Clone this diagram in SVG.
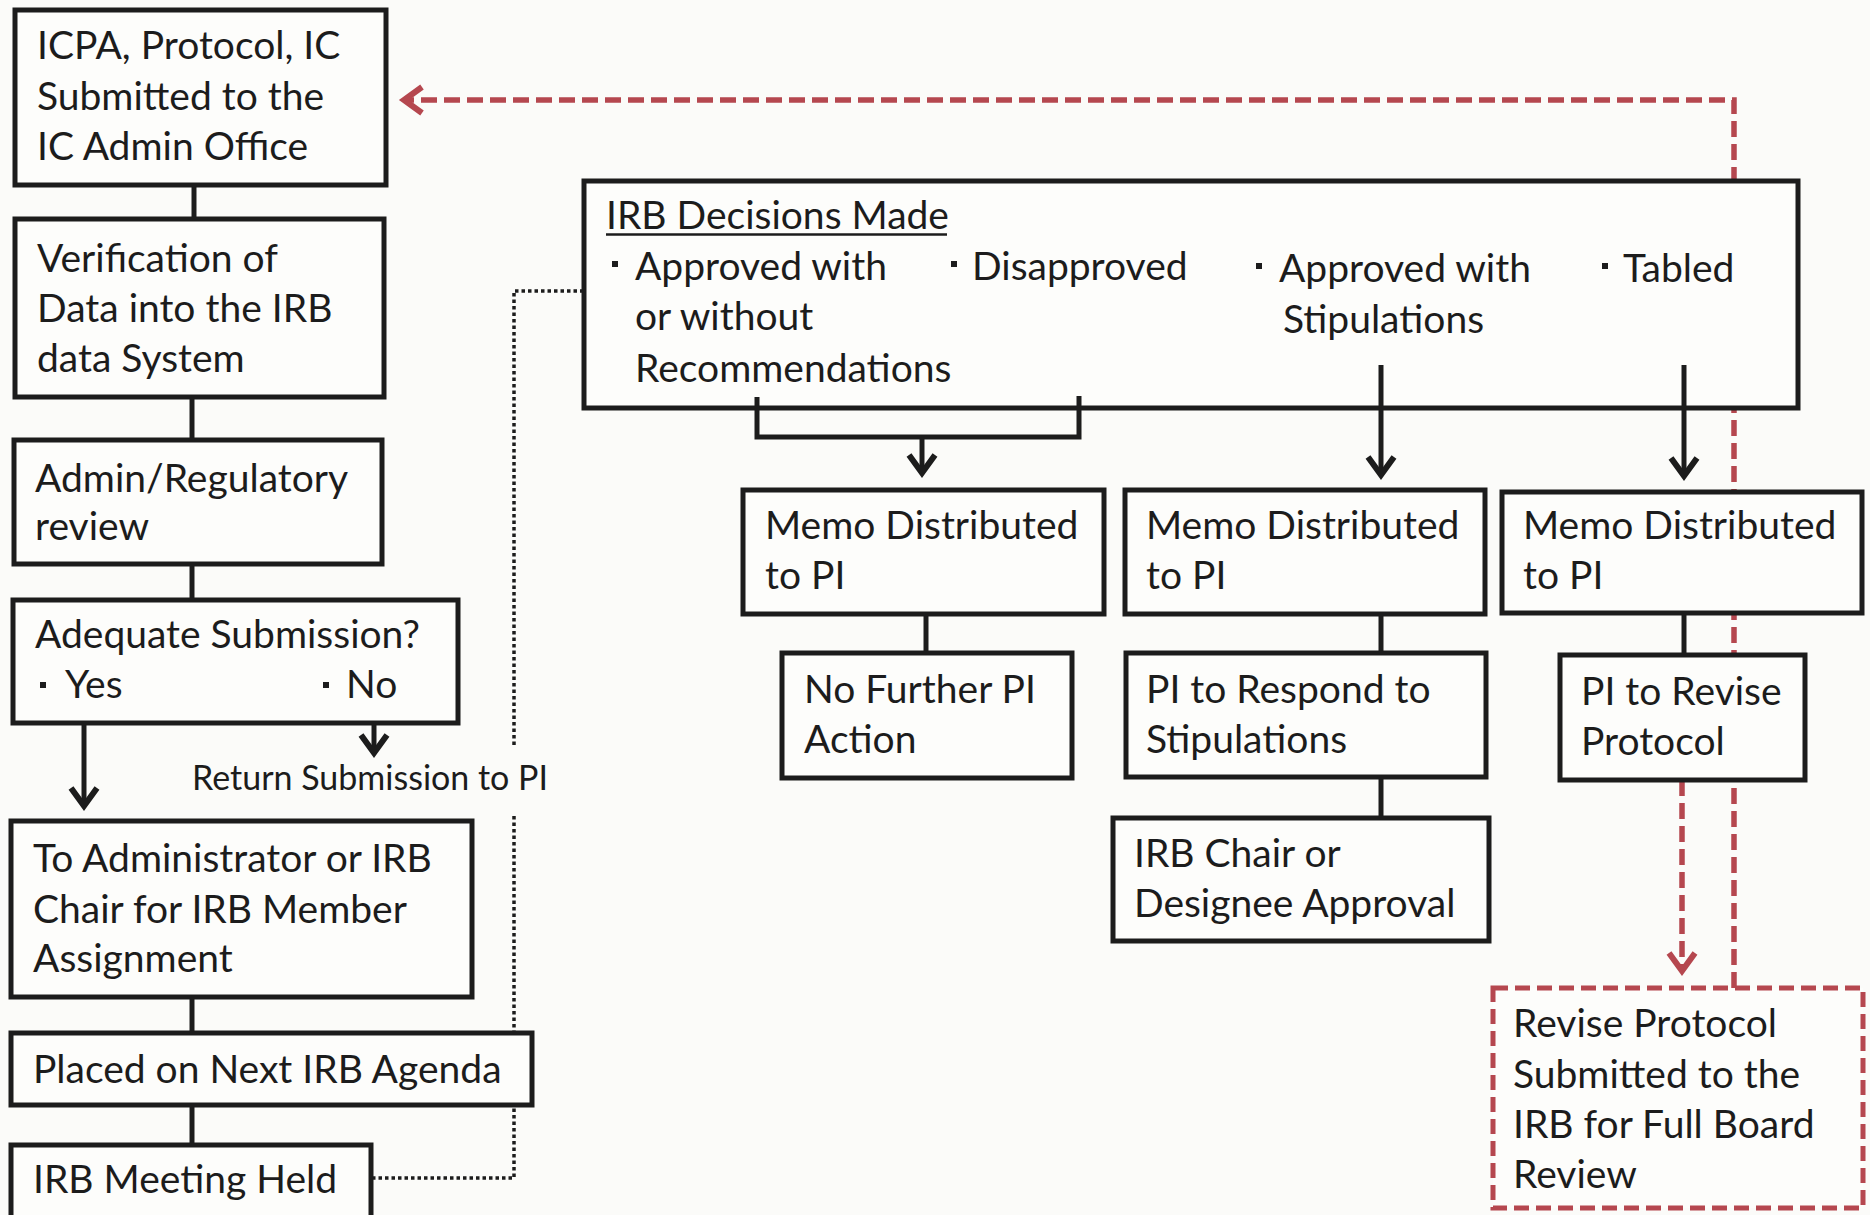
<svg xmlns="http://www.w3.org/2000/svg" width="1870" height="1215" viewBox="0 0 1870 1215">
  <style>
    .box { fill: #fdfdfb; stroke: #1c1c1c; stroke-width: 5; }
    .rbox { fill: #fdfdfb; stroke: #b5474f; stroke-width: 5; stroke-dasharray: 15 7; }
    .t { font-family: Lato, "Liberation Sans", sans-serif; font-size: 39px; fill: #1c1c1c; }
    .s { font-size: 34px; }
    .ln { fill: none; stroke: #1c1c1c; stroke-width: 5; }
    .arr { fill: none; stroke: #1c1c1c; stroke-width: 5; marker-end: url(#ah); }
    .dot { fill: none; stroke: #1c1c1c; stroke-width: 3.5; stroke-dasharray: 3.5 3; }
    .red { fill: none; stroke: #b5474f; stroke-width: 5.5; stroke-dasharray: 16 7; marker-end: url(#rh); }
    .bul { fill: #1c1c1c; }
  </style>
  <defs>
    <marker id="ah" markerUnits="userSpaceOnUse" markerWidth="40" markerHeight="40" viewBox="-25 -20 40 40" refX="0" refY="0" orient="auto" overflow="visible">
      <path d="M-18,-13 L0,0 L-18,13" fill="none" stroke="#1c1c1c" stroke-width="6"/>
    </marker>
    <marker id="rh" markerUnits="userSpaceOnUse" markerWidth="40" markerHeight="40" viewBox="-25 -20 40 40" refX="0" refY="0" orient="auto" overflow="visible">
      <path d="M-18,-13 L0,0 L-18,13" fill="none" stroke="#b5474f" stroke-width="6"/>
    </marker>
  </defs>

  <rect width="1870" height="1215" fill="#fbfbf9"/>

  <!-- connectors that run beneath the boxes -->
  <g id="connectors">
    <!-- left column links -->
    <path class="ln" d="M194,185 V219"/>
    <path class="ln" d="M192,397 V440"/>
    <path class="ln" d="M192,564 V600"/>
    <path class="ln" d="M192,997 V1033"/>
    <path class="ln" d="M192,1105 V1145"/>
    <!-- yes / no branches -->
    <path class="arr" d="M84,712 V806"/>
    <path class="arr" d="M374,712 V753"/>
    <!-- meeting to decisions (dotted) -->
    <path class="dot" d="M372,1178 H514 V813"/>
    <path class="dot" d="M514,745 V291 H584"/>
    <!-- memo to follow-up links -->
    <path class="ln" d="M926,614 V653"/>
    <path class="ln" d="M1381,614 V653"/>
    <path class="ln" d="M1381,777 V818"/>
    <path class="ln" d="M1684,613 V655"/>
    <!-- revision loop (red dashed) -->
    <path class="red" d="M1682,780 V971"/>
    <path class="red" d="M1734,988 V100 H404"/>
  </g>

  <g id="n-submitted">
    <rect class="box" x="15" y="10" width="371" height="175"/>
    <text class="t" x="37" y="59">ICPA, Protocol, IC</text>
    <text class="t" x="37" y="110">Submitted to the</text>
    <text class="t" x="37" y="160">IC Admin Office</text>
  </g>

  <g id="n-verification">
    <rect class="box" x="15" y="219" width="369" height="178"/>
    <text class="t" x="37" y="272">Verification of</text>
    <text class="t" x="37" y="322">Data into the IRB</text>
    <text class="t" x="37" y="372">data System</text>
  </g>

  <g id="n-review">
    <rect class="box" x="14" y="440" width="368" height="124"/>
    <text class="t" x="35" y="492">Admin/Regulatory</text>
    <text class="t" x="35" y="540">review</text>
  </g>

  <g id="n-adequate">
    <rect class="box" x="13" y="600" width="445" height="123"/>
    <text class="t" x="35" y="648">Adequate Submission?</text>
    <rect class="bul" x="40" y="682" width="6" height="6"/>
    <text class="t" x="65" y="698">Yes</text>
    <rect class="bul" x="323" y="682" width="6" height="6"/>
    <text class="t" x="346" y="698">No</text>
  </g>

  <g id="l-return">
    <text class="t s" x="192" y="790">Return Submission to PI</text>
  </g>

  <g id="n-assignment">
    <rect class="box" x="11" y="821" width="461" height="176"/>
    <text class="t" x="33" y="872">To Administrator or IRB</text>
    <text class="t" x="33" y="923">Chair for IRB Member</text>
    <text class="t" x="33" y="972">Assignment</text>
  </g>

  <g id="n-agenda">
    <rect class="box" x="11" y="1033" width="521" height="72"/>
    <text class="t" x="33" y="1083">Placed on Next IRB Agenda</text>
  </g>

  <g id="n-meeting">
    <rect class="box" x="11" y="1145" width="360" height="90"/>
    <text class="t" x="33" y="1193">IRB Meeting Held</text>
  </g>

  <g id="n-decisions">
    <rect class="box" x="584" y="181" width="1214" height="227"/>
    <text class="t" x="606" y="229">IRB Decisions Made</text>
    <path class="ln" d="M606,234.5 H947" style="stroke-width:2.5"/>
    <rect class="bul" x="612" y="261" width="6" height="6"/>
    <text class="t" x="635" y="280">Approved with</text>
    <text class="t" x="635" y="330">or without</text>
    <text class="t" x="635" y="382">Recommendations</text>
    <rect class="bul" x="951" y="261" width="6" height="6"/>
    <text class="t" x="972" y="280">Disapproved</text>
    <rect class="bul" x="1256" y="263" width="6" height="6"/>
    <text class="t" x="1279" y="282">Approved with</text>
    <text class="t" x="1283" y="333">Stipulations</text>
    <rect class="bul" x="1602" y="263" width="6" height="6"/>
    <text class="t" x="1623" y="282">Tabled</text>
  </g>

  <g id="n-memo-1">
    <rect class="box" x="743" y="490" width="361" height="124"/>
    <text class="t" x="765" y="539">Memo Distributed</text>
    <text class="t" x="765" y="589">to PI</text>
  </g>

  <g id="n-memo-2">
    <rect class="box" x="1125" y="490" width="360" height="124"/>
    <text class="t" x="1146" y="539">Memo Distributed</text>
    <text class="t" x="1146" y="589">to PI</text>
  </g>

  <g id="n-memo-3">
    <rect class="box" x="1502" y="492" width="360" height="121"/>
    <text class="t" x="1523" y="539">Memo Distributed</text>
    <text class="t" x="1523" y="589">to PI</text>
  </g>

  <g id="n-no-action">
    <rect class="box" x="782" y="653" width="290" height="125"/>
    <text class="t" x="804" y="703">No Further PI</text>
    <text class="t" x="804" y="753">Action</text>
  </g>

  <g id="n-respond">
    <rect class="box" x="1126" y="653" width="360" height="124"/>
    <text class="t" x="1146" y="703">PI to Respond to</text>
    <text class="t" x="1146" y="753">Stipulations</text>
  </g>

  <g id="n-chair">
    <rect class="box" x="1113" y="818" width="376" height="123"/>
    <text class="t" x="1134" y="867">IRB Chair or</text>
    <text class="t" x="1134" y="917">Designee Approval</text>
  </g>

  <g id="n-revise">
    <rect class="box" x="1560" y="655" width="245" height="125"/>
    <text class="t" x="1581" y="705">PI to Revise</text>
    <text class="t" x="1581" y="755">Protocol</text>
  </g>

  <g id="n-resubmit">
    <rect class="rbox" x="1493" y="988" width="370" height="220"/>
    <text class="t" x="1513" y="1037">Revise Protocol</text>
    <text class="t" x="1513" y="1088">Submitted to the</text>
    <text class="t" x="1513" y="1138">IRB for Full Board</text>
    <text class="t" x="1513" y="1188">Review</text>
  </g>

  <!-- decision outlets, which start inside the decisions box -->
  <g id="connectors-decisions">
    <path class="ln" d="M757,397 V437 H1079 V396"/>
    <path class="arr" d="M922,437 V473"/>
    <path class="arr" d="M1381,365 V475"/>
    <path class="arr" d="M1684,365 V476"/>
  </g>
</svg>
